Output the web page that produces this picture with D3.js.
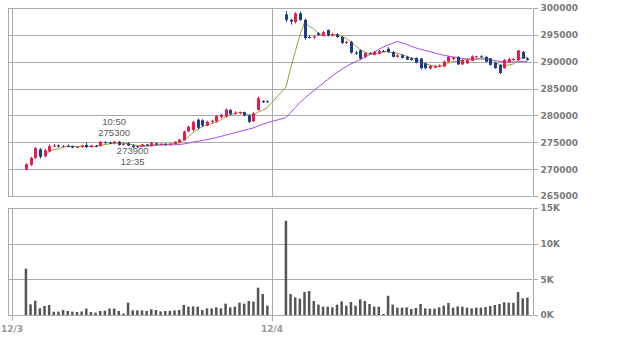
<!DOCTYPE html>
<html>
<head>
<meta charset="utf-8">
<script src="https://cdn.jsdelivr.net/npm/d3@7"></script>
<style>
body { margin: 0; background: #fff; }
.grid line { stroke: #aaa; stroke-width: 1; shape-rendering: crispEdges; }
.axis text { font: bold 9px "DejaVu Sans", sans-serif; fill: #7a7a7a; }
.axis path, .axis line { stroke: #aaa; shape-rendering: crispEdges; }
.note { font: 9.5px "Liberation Sans", Arial, sans-serif; fill: #5a5a5a; text-anchor: middle; }
</style>
</head>
<body>
<script>

// days on the x axis
var days = ["12/3", "12/4"];
var barsPerDay = 53;

// 5 minute bars, day 1 then day 2
var opens = [
  269900,270800,272100,273700,272400,273300,274300,274400,274200,274300,
  274300,274000,274100,274500,274100,274300,274300,275000,274900,274800,
  275100,274600,274800,274400,274100,274300,274600,274300,274800,274600,
  274700,274600,274700,275000,275400,277000,277300,279200,279100,278100,
  278800,278900,279700,279800,281000,280300,280400,280600,280000,278900,
  281000,282700,282600,
  298800,297800,297400,299000,297800,294600,294500,295300,294800,295900,
  294900,295100,294600,293500,293700,291700,292100,290900,291600,291300,
  291500,292000,292400,291800,290900,291200,290900,290600,290700,290600,
  289700,288700,288900,289200,289100,290000,290500,290900,289500,289700,
  290200,290800,291000,290900,290600,289800,289400,288800,289900,290300,
  290300,291800,290600
];
var highs = [
  271100,272300,274100,273900,273800,274600,274700,274600,274500,274600,
  274400,274300,274500,274900,274500,274500,275200,275200,275100,275300,
  275200,274900,275000,274600,274400,274700,274700,275100,274900,274800,
  274800,274800,275200,275600,277200,278100,279000,279400,279300,279000,
  279200,280100,280300,281300,281200,280800,280700,280700,280200,280600,
  283500,282800,282800,
  299400,298000,299200,299300,298000,294900,294900,295500,295700,296000,
  295400,295300,294800,293900,293900,292000,292300,291800,291800,292000,
  292200,292200,292700,292000,291400,291400,291100,290800,290800,290700,
  289800,289400,289400,289500,290200,291100,290900,291000,290500,290500,
  291200,291100,291200,291000,290700,289900,289500,290500,290700,290700,
  292200,292000,290800
];
var lows = [
  269800,270600,271900,272000,272200,273200,274100,274000,274000,274100,
  273900,273900,274000,273900,274000,274100,274200,274800,274700,274600,
  274400,274400,274300,273900,274000,274200,274300,274200,274500,274500,
  274500,274500,274600,274900,275300,276900,277100,277400,277900,278000,
  278600,278700,279500,279600,280000,280100,280200,279800,278600,278800,
  280900,282300,282400,
  297400,296900,297100,297600,294100,294300,294200,294800,294700,294700,
  294700,294400,293300,293300,291500,291300,290400,290700,291400,291200,
  291400,291800,291700,290800,290800,290600,290300,290200,289700,288600,
  288600,288600,288800,289000,289000,289900,290300,289400,289400,289600,
  290100,290700,290800,289900,289300,288700,287700,288700,289800,290200,
  290200,290500,290200
];
var closes = [
  270900,272100,273900,272300,273500,274300,274400,274200,274300,274300,
  274000,274200,274400,274100,274400,274300,275100,274900,274800,275100,
  274500,274700,274400,274100,274300,274600,274400,274900,274600,274700,
  274600,274700,275100,275500,277000,277900,278800,277700,278100,278800,
  279000,279900,280100,281100,280300,280500,280600,280000,278800,280400,
  283200,282500,282500,
  297800,297500,299000,297800,294400,294500,294700,295000,295500,294900,
  295100,294600,293500,293700,291700,291500,290600,291600,291600,291800,
  292000,292000,291800,290900,291200,290700,290400,290300,289800,288800,
  288800,289200,289200,289300,290000,290900,290800,289500,290300,290300,
  291000,291000,291000,290000,289400,288800,287900,290300,290500,290500,
  292100,290600,290300
];
var volumes = [
  6500,1500,2000,930,1260,1400,470,470,700,560,
  470,420,500,900,420,330,560,600,900,900,
  560,200,1730,650,650,650,560,800,700,500,
  560,600,650,700,1400,1170,1210,1170,700,930,
  930,1070,930,1590,1070,1170,1730,1590,1960,1870,
  3830,2940,1310,
  13200,2940,2470,2290,3220,3360,1960,1450,1170,1170,
  1070,1450,1910,1310,1820,1310,2190,1960,1540,1170,
  1170,140,2700,1450,1030,1030,1070,840,980,1540,
  930,890,890,1070,1300,1680,1030,1210,1170,1030,
  930,1030,1030,1120,1260,1400,1540,1780,1730,1700,
  3220,2340,2430
];

// the high and low that are marked on day 1
var marks = [
  {bar: 19, time: "10:50", price: 275300, up: true},
  {bar: 23, time: "12:35", price: 273900, up: false}
];

var priceTicks = [265000, 270000, 275000, 280000, 285000, 290000, 295000, 300000];
var volTicks = [0, 5000, 10000, 15000];

var width = 637, height = 347;
var left = 8, right = 532;

// slot positions: each day has a few empty slots before the first bar
var slotsPerDay = 56, firstSlot = 3;
function slotOf(i) {
  var d = Math.floor(i / barsPerDay);
  return d * slotsPerDay + firstSlot + (i % barsPerDay);
}

var x = d3.scaleLinear().domain([0, slotsPerDay * days.length]).range([12, right]);
var yPrice = d3.scaleLinear().domain([265000, 300000]).range([196, 8]);
var yVol = d3.scaleLinear().domain([0, 15000]).range([315, 208]);

function sma(n) {
  return closes.map(function(c, i) {
    if (i < n - 1) return null;
    return d3.mean(closes.slice(i - n + 1, i + 1));
  });
}
var ma5 = sma(5), ma25 = sma(25);

var svg = d3.select("body").append("svg")
    .attr("width", width)
    .attr("height", height);

// grid lines
var grid = svg.append("g").attr("class", "grid");
grid.selectAll(".hp").data(priceTicks).enter().append("line")
    .attr("x1", left).attr("x2", right)
    .attr("y1", function(d) { return Math.round(yPrice(d)) + 0.5; })
    .attr("y2", function(d) { return Math.round(yPrice(d)) + 0.5; });
grid.selectAll(".hv").data(volTicks).enter().append("line")
    .attr("x1", left).attr("x2", right)
    .attr("y1", function(d) { return Math.round(yVol(d)) + 0.5; })
    .attr("y2", function(d) { return Math.round(yVol(d)) + 0.5; });

// panel left edges
[[yPrice(300000), yPrice(265000)], [yVol(15000), yVol(0)]].forEach(function(p) {
  grid.append("line").attr("x1", left + 0.5).attr("x2", left + 0.5)
      .attr("y1", p[0]).attr("y2", p[1]);
});

// day lines in both panels
days.forEach(function(d, i) {
  var xx = Math.round(x(i * slotsPerDay)) + 0.5;
  grid.append("line").attr("x1", xx).attr("x2", xx)
      .attr("y1", yPrice(300000)).attr("y2", yPrice(265000));
  grid.append("line").attr("x1", xx).attr("x2", xx)
      .attr("y1", yVol(15000)).attr("y2", yVol(0) + 6);
});

// right axes
svg.append("g")
    .attr("class", "axis")
    .attr("transform", "translate(" + (right + 0.5) + ",0)")
    .call(d3.axisRight(yPrice).tickValues(priceTicks).tickSize(5).tickPadding(3)
        .tickFormat(d3.format("d")));

svg.append("g")
    .attr("class", "axis")
    .attr("transform", "translate(" + (right + 0.5) + ",0)")
    .call(d3.axisRight(yVol).tickValues(volTicks).tickSize(5).tickPadding(3)
        .tickFormat(function(d) { return (d / 1000) + "K"; }));

// day labels
svg.selectAll(".day").data(days).enter().append("text")
    .attr("x", function(d, i) { return x(i * slotsPerDay); })
    .attr("y", 332)
    .attr("text-anchor", "middle")
    .style("font", "bold 9px 'DejaVu Sans', sans-serif")
    .style("fill", "#999")
    .text(function(d) { return d; });

// volume bars
svg.selectAll(".vol").data(volumes).enter().append("rect")
    .attr("fill", "#555")
    .attr("x", function(d, i) { return x(slotOf(i)) - 1.25; })
    .attr("width", 2.5)
    .attr("y", function(d) { return yVol(d); })
    .attr("height", function(d) { return yVol(0) - yVol(d); });

// moving averages
function maLine(vals, color) {
  var pts = vals.map(function(v, i) { return [x(slotOf(i)), v]; })
      .filter(function(p) { return p[1] != null; });
  svg.append("path")
      .datum(pts)
      .attr("fill", "none")
      .attr("stroke", color)
      .attr("stroke-width", 1)
      .attr("d", d3.line().x(function(p) { return p[0]; }).y(function(p) { return yPrice(p[1]); }));
}
maLine(ma25, "#a64be8");
maLine(ma5, "#8fa531");

// candles
var candles = svg.selectAll(".candle").data(closes).enter().append("g");
function col(i) { return closes[i] > opens[i] ? "#ec1a4e" : "#1f3c88"; }
candles.append("line")
    .attr("x1", function(d, i) { return Math.round(x(slotOf(i))) + 0.5; })
    .attr("x2", function(d, i) { return Math.round(x(slotOf(i))) + 0.5; })
    .attr("y1", function(d, i) { return yPrice(highs[i]); })
    .attr("y2", function(d, i) { return yPrice(lows[i]); })
    .attr("stroke", function(d, i) { return col(i); });
candles.append("rect")
    .attr("x", function(d, i) { return Math.round(x(slotOf(i))) - 1; })
    .attr("width", 3)
    .attr("y", function(d, i) { return yPrice(Math.max(opens[i], closes[i])); })
    .attr("height", function(d, i) { return Math.max(1, Math.abs(yPrice(opens[i]) - yPrice(closes[i]))); })
    .attr("fill", function(d, i) { return col(i); });

// high / low notes
marks.forEach(function(m) {
  var xx = x(slotOf(m.bar)), yy = yPrice(m.price);
  var lines = m.up ? [m.time, m.price] : [m.price, m.time];
  lines.forEach(function(t, k) {
    svg.append("text")
        .attr("class", "note")
        .attr("x", xx)
        .attr("y", m.up ? yy - 5 - (1 - k) * 10.5 : yy + 6 + k * 10.5)
        .text(t);
  });
});

</script>
</body>
</html>
